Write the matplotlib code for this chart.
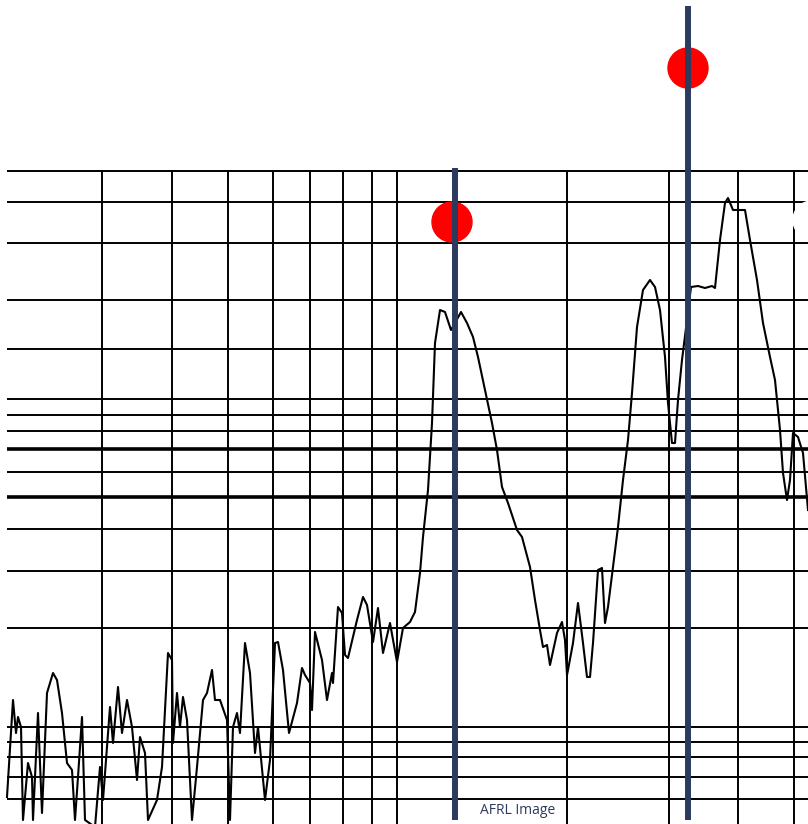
import matplotlib
matplotlib.use('Agg')
import matplotlib.pyplot as plt
from matplotlib.patches import Circle

# everything is in picture pixels (x right, y down)
grid_x = [102, 172, 228, 273, 310, 343, 372, 397, 567, 669, 738, 794]
grid_y = [171, 202, 243, 300, 349, 399, 415, 431, 449, 472, 497, 529, 571, 628,
          727, 742, 757, 777, 799]
thick_y = [449, 497]

curve_x = [7, 13, 16, 18, 21, 23, 28, 32, 33, 38, 42, 47, 53, 57, 62, 67, 72, 75, 78, 82,
           85, 95, 100, 103, 110, 113, 118, 122, 127, 132, 137, 140, 145, 148, 157, 162,
           168, 172, 173, 177, 180, 183, 187, 192, 197, 203, 207, 212, 215, 220, 227, 230,
           233, 237, 240, 245, 250, 255, 258, 265, 270, 275, 278, 283, 289, 297, 302, 305,
           310, 312, 315, 322, 327, 332, 333, 338, 342, 345, 348, 357, 363, 367, 373, 378,
           383, 390, 397, 403, 410, 415, 420, 423, 428, 432, 435, 440, 445, 451, 455, 461,
           467, 473, 478, 485, 492, 497, 502, 508, 517, 522, 530, 535, 540, 543, 547, 550,
           557, 562, 565, 567, 568, 573, 578, 583, 587, 590, 593, 598, 602, 605, 608, 613,
           618, 623, 628, 632, 637, 643, 650, 655, 660, 665, 668, 672, 675, 678, 682, 687,
           691, 698, 705, 712, 715, 720, 725, 728, 733, 738, 745, 750, 757, 763, 770, 775,
           780, 783, 787, 790, 793, 798, 803, 808]
curve_y = [797, 700, 733, 717, 727, 820, 763, 777, 820, 713, 813, 693, 673, 680, 713, 763,
           770, 820, 777, 717, 820, 827, 767, 800, 707, 743, 687, 733, 700, 727, 780, 737,
           753, 820, 800, 767, 653, 660, 743, 693, 727, 697, 720, 820, 767, 700, 693, 670,
           700, 700, 720, 820, 727, 713, 733, 643, 673, 753, 727, 800, 760, 643, 642, 670,
           733, 703, 668, 675, 683, 710, 632, 660, 700, 673, 683, 607, 613, 655, 658, 620,
           597, 605, 642, 608, 653, 623, 662, 628, 622, 612, 573, 537, 490, 423, 343, 310,
           312, 330, 323, 312, 323, 337, 357, 390, 423, 450, 487, 503, 530, 537, 567, 600,
           630, 647, 645, 665, 633, 622, 640, 675, 670, 643, 603, 643, 677, 677, 643, 570,
           568, 623, 607, 567, 527, 480, 440, 393, 327, 290, 280, 287, 310, 357, 403, 443,
           443, 400, 360, 320, 287, 286, 288, 286, 288, 240, 203, 198, 210, 210, 210, 240,
           280, 323, 357, 380, 430, 473, 500, 480, 433, 437, 453, 510]

marker_x = [455, 688]
marker_top = [168, 6]
marker_bottom = [820, 820]
dot_x = [452, 688]
dot_y = [222, 68]

navy = '#2c3a5e'

fig = plt.figure(figsize=(8.08, 8.24), dpi=100)
ax = fig.add_axes([0, 0, 1, 1])
ax.set_xlim(0, 808)
ax.set_ylim(824, 0)
ax.axis('off')

for y in grid_y:
    lw = 2.6 if y in thick_y else 1.4
    ax.plot([7, 808], [y, y], color='black', lw=lw, solid_capstyle='butt', zorder=1)
for x in grid_x:
    ax.plot([x, x], [171, 824], color='black', lw=1.4, solid_capstyle='butt', zorder=1)

ax.plot(curve_x, curve_y, color='black', lw=1.5, solid_joinstyle='round', zorder=2)

# white blob at the right edge
ax.add_patch(Circle((812, 220), 19, color='white', zorder=3))

for x, t, b in zip(marker_x, marker_top, marker_bottom):
    ax.plot([x, x], [t, b], color=navy, lw=4.3, solid_capstyle='butt', zorder=5)
for x, y in zip(dot_x, dot_y):
    ax.add_patch(Circle((x, y), 20, color='red', zorder=4))

ax.text(480, 811, 'AFRL Image', color=navy, fontsize=10, family='Open Sans',
        va='center', ha='left', zorder=6)

fig.savefig('out.png', dpi=100)
